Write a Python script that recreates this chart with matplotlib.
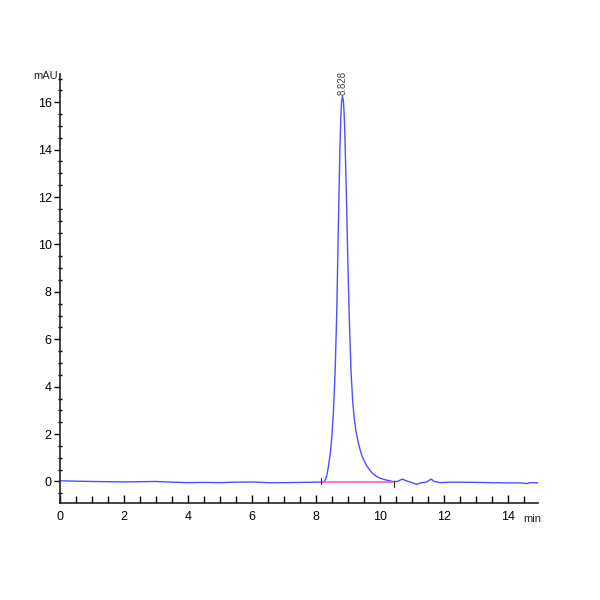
import matplotlib.pyplot as plt
from matplotlib.ticker import MultipleLocator

plt.rcParams['font.family'] = ['Liberation Sans Narrow', 'Liberation Sans', 'DejaVu Sans']

# --- data ---
time_min = [0.0, 0.3, 0.6, 1.0, 1.5, 2.0, 2.5, 3.0, 3.5, 4.0, 4.5, 5.0, 5.5, 6.0, 6.5, 7.0,
            7.5, 8.0, 8.2, 8.25, 8.3, 8.35, 8.4, 8.45, 8.5, 8.55, 8.6, 8.65, 8.7, 8.75, 8.78,
            8.8, 8.83, 8.86, 8.88, 8.9, 8.95, 9.0, 9.05, 9.1, 9.15, 9.2, 9.25, 9.3, 9.35,
            9.4, 9.45, 9.5, 9.6, 9.7, 9.8, 9.9, 10.0, 10.2, 10.4, 10.55, 10.7, 10.85, 11.0,
            11.15, 11.3, 11.45, 11.6, 11.7, 11.9, 12.2, 12.5, 13.0, 13.5, 14.0, 14.4, 14.6,
            14.7, 14.95]
signal_mau = [0.03, 0.02, 0.01, 0.0, -0.01, -0.02, -0.01, 0.0, -0.03, -0.05, -0.04, -0.05,
              -0.03, -0.02, -0.05, -0.05, -0.04, -0.03, -0.02, 0.0, 0.08, 0.3, 0.7, 1.2,
              1.9, 3.0, 4.6, 7.0, 10.6, 14.0, 15.4, 15.95, 16.25, 16.05, 15.6, 14.9, 12.3,
              9.2, 6.6, 4.6, 3.4, 2.65, 2.15, 1.8, 1.5, 1.25, 1.05, 0.9, 0.64, 0.45, 0.31,
              0.21, 0.14, 0.06, 0.0, 0.0, 0.1, 0.02, -0.05, -0.12, -0.05, -0.03, 0.1, 0.0,
              -0.05, -0.03, -0.03, -0.04, -0.05, -0.06, -0.06, -0.09, -0.05, -0.06]

peak_rt = 8.828
peak_height = 16.25
baseline_start, baseline_end = 8.15, 10.45

fig = plt.figure(figsize=(6, 6), dpi=100)
ax = fig.add_axes([0.1, 0.162, 0.797, 0.715])

ax.plot(time_min, signal_mau, color='#4f4fff', linewidth=1.0)
ax.plot([baseline_start, baseline_end], [-0.02, -0.02], color='#ff55dd', linewidth=1.2)
ax.plot([baseline_start, baseline_start], [-0.12, 0.15], color='#333333', linewidth=0.8)
ax.plot([baseline_end, baseline_end], [-0.25, 0.0], color='#333333', linewidth=0.8)

ax.text(peak_rt, peak_height + 0.05, f'{peak_rt:.3f}', rotation=90, ha='center', va='bottom',
        fontsize=7, color='#444444')

ax.set_xlim(0, 14.95)
ax.set_ylim(-0.9, 17.2)

ax.xaxis.set_major_locator(MultipleLocator(2))
ax.xaxis.set_minor_locator(MultipleLocator(0.5))
ax.yaxis.set_major_locator(MultipleLocator(2))
ax.yaxis.set_minor_locator(MultipleLocator(0.5))
ax.set_xticks(range(0, 15, 2))
ax.set_yticks(range(0, 17, 2))

ax.tick_params(axis='x', which='major', direction='in', length=6, width=1, labelsize=9, pad=6)
ax.tick_params(axis='x', which='minor', direction='in', length=5, width=1)
ax.tick_params(axis='y', which='major', direction='out', length=4, width=1, labelsize=9, pad=2)
ax.tick_params(axis='y', which='minor', direction='inout', length=3, width=1)

for side in ('top', 'right'):
    ax.spines[side].set_visible(False)
for side in ('left', 'bottom'):
    ax.spines[side].set_linewidth(1.2)
    ax.spines[side].set_color('#222222')

ax.text(-0.08, 17.1, 'mAU', ha='right', va='center', fontsize=8, color='#222222')
ax.text(14.78, -1.6, 'min', ha='center', va='center', fontsize=8, color='#222222')

plt.savefig('out.png', dpi=100)
